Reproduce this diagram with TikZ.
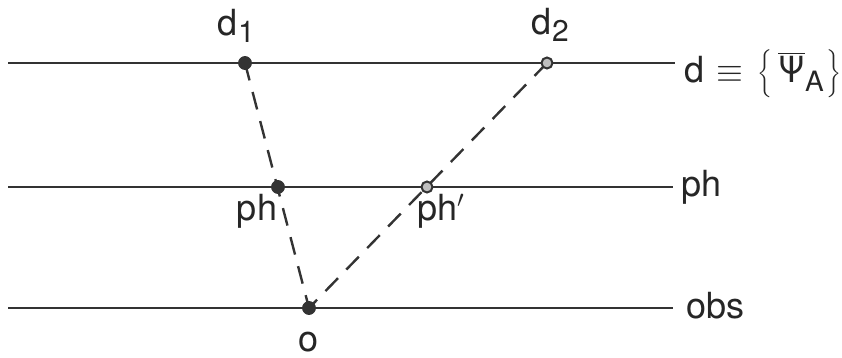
\documentclass[tikz,border=0pt]{standalone}
\usepackage{fontspec}
\setmainfont{TeX Gyre Heros}
\newcommand{\lowsub}[1]{\kern0.5pt\raisebox{-0.35ex}{\fontsize{15}{15}\selectfont #1}}
\begin{document}
\begin{tikzpicture}[x=0.5pt,y=-0.5pt,
  level/.style={line width=1.3pt,black!80},
  ray/.style={line width=1.2pt,black!80,dash pattern=on 9pt off 6pt},
  fulldot/.style={circle,fill=black!80,draw=black!80,inner sep=0pt,minimum size=6.5pt},
  opendot/.style={circle,fill=black!25,draw=black!80,line width=1pt,inner sep=0pt,minimum size=5.5pt},
  lbl/.style={font=\fontsize{18}{20}\selectfont,text=black!85,inner sep=0pt}]
\useasboundingbox (0,0) rectangle (842,358);

\coordinate (dl) at (8,63);   \coordinate (dr) at (675,63);
\coordinate (phl) at (8,187); \coordinate (phr) at (673,187);
\coordinate (obl) at (8,308); \coordinate (obr) at (673,308);
\draw[level] (dl) -- (dr);
\draw[level] (phl) -- (phr);
\draw[level] (obl) -- (obr);

\coordinate (od) at (309,308);
\coordinate (d1) at (245,63);
\coordinate (d2) at (547,63);
\draw[ray] (d1) -- (od);
\draw[ray] (d2) -- (od);

\node[fulldot] (a) at (d1) {};
\node[opendot] (b) at (d2) {};
\node[fulldot] (ph) at (278,187) {};
\node[opendot] (php) at (427,187) {};
\node[fulldot] (o) at (od) {};

\node[lbl] at (236,26) {d\lowsub{1}};
\node[lbl] at (550,25) {d\lowsub{2}};
\node[lbl] at (257,211) {ph};
\node[lbl] at (441,211) {ph$'$};
\node[lbl] at (309,342) {o};

\node[lbl,anchor=west] at (684,74) {d\kern6pt$\equiv$\kern7pt$\left\{\kern3pt\overline{\mbox{Ψ}}_{\mbox{\fontsize{14}{14}\selectfont A}}\kern1pt\right\}$};
\node[lbl,anchor=west] at (681,187) {ph};
\node[lbl,anchor=west] at (686,306) {obs};
\end{tikzpicture}
\end{document}
